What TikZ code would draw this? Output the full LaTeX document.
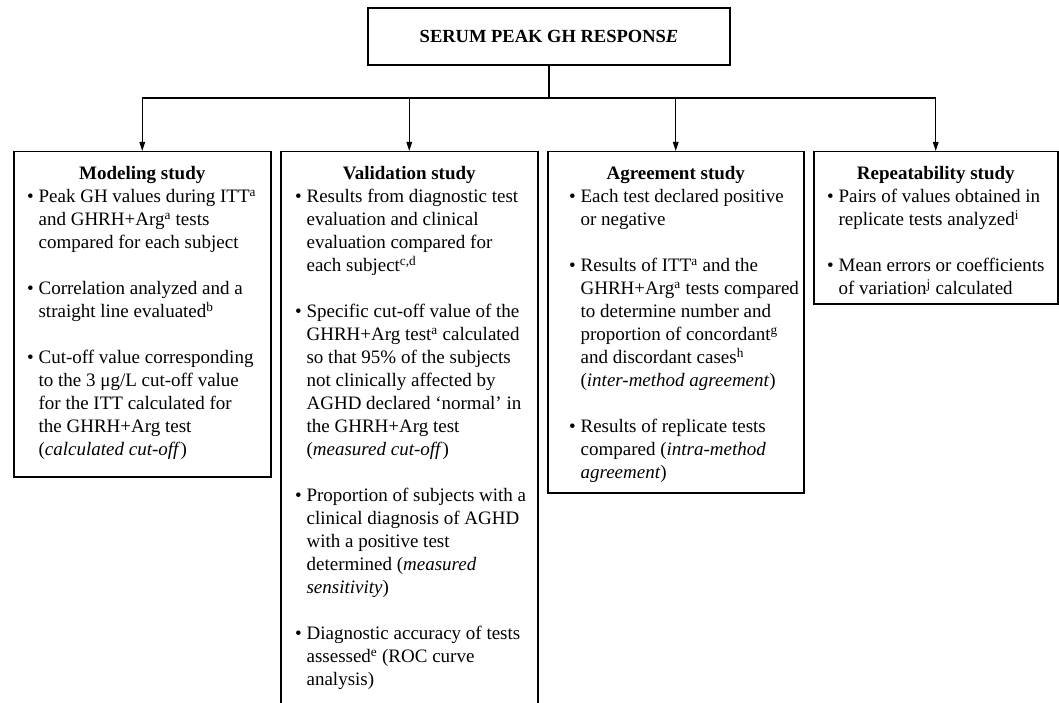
\documentclass[tikz,border=0pt]{standalone}
\usepackage{fontspec}
\setmainfont{Liberation Serif}
\usetikzlibrary{arrows.meta,positioning}
\tikzset{
  topbox/.style={draw, line width=2.2pt, align=center, inner sep=4pt, font=\fontsize{18.5}{22}\selectfont\bfseries},
  frame/.style={draw, line width=1.5pt, anchor=north west, minimum width=#1, inner sep=0pt},
  head/.style={inner sep=0pt, font=\fontsize{19}{23}\selectfont\bfseries},
  body/.style={inner sep=0pt, align=left, anchor=north west},
  link/.style={draw, line width=1.3pt},
  arrow/.style={-{Triangle[length=9pt,width=5.5pt]}, line width=1.3pt}
}
\newcommand{\bul}{\textbullet\ }
\newcommand{\ins}{\hphantom{\textbullet\ }}

\begin{document}
\begin{tikzpicture}[x=1pt, y=-1pt, font=\fontsize{19}{23}\selectfont]
  \useasboundingbox (0,0) rectangle (1059,703);
  \node[topbox, minimum width=362pt, minimum height=57pt] (resp) at (549,36.5) {SERUM PEAK GH RESPONS\textit{E}};

  \node[frame=257pt, minimum height=325pt] (mod) at (13,151) {};
  \node[frame=257pt, minimum height=561pt] (val) at (280,151) {};
  \node[frame=256pt, minimum height=341pt] (agr) at (547,151) {};
  \node[frame=244pt, minimum height=152pt] (rep) at (813,151) {};

  \node[head, below=15pt of mod.north] (modh) {Modeling study};
  \node[head, below=15pt of val.north] (valh) {Validation study};
  \node[head, below=15pt of agr.north] (agrh) {Agreement study};
  \node[head, below=15pt of rep.north] (reph) {Repeatability study};

  \node[body, below right=38pt and 14pt of mod.north west] (modb) {%
    \bul Peak GH values during ITT\textsuperscript{a}\\
    \ins and GHRH+Arg\textsuperscript{a} tests\\
    \ins compared for each subject\\[23pt]
    \bul Correlation analyzed and a\\
    \ins straight line evaluated\textsuperscript{b}\\[23pt]
    \bul Cut-off value corresponding\\
    \ins to the 3 μg/L cut-off value\\
    \ins for the ITT calculated for\\
    \ins the GHRH+Arg test\\
    \ins (\textit{calculated cut-off})};
  \node[body, below right=38pt and 15pt of val.north west] (valb) {%
    \bul Results from diagnostic test\\
    \ins evaluation and clinical\\
    \ins evaluation compared for\\
    \ins each subject\textsuperscript{c,d}\\[23pt]
    \bul Specific cut-off value of the\\
    \ins GHRH+Arg test\textsuperscript{a} calculated\\
    \ins so that 95\% of the subjects\\
    \ins not clinically affected by\\
    \ins AGHD declared `normal' in\\
    \ins the GHRH+Arg test\\
    \ins (\textit{measured cut-off})\\[23pt]
    \bul Proportion of subjects with a\\
    \ins clinical diagnosis of AGHD\\
    \ins with a positive test\\
    \ins determined (\textit{measured}\\
    \ins \textit{sensitivity})\\[23pt]
    \bul Diagnostic accuracy of tests\\
    \ins assessed\textsuperscript{e} (ROC curve\\
    \ins analysis)};
  \node[body, below right=38pt and 22pt of agr.north west] (agrb) {%
    \bul Each test declared positive\\
    \ins or negative\\[23pt]
    \bul Results of ITT\textsuperscript{a} and the\\
    \ins GHRH+Arg\textsuperscript{a} tests compared\\
    \ins to determine number and\\
    \ins proportion of concordant\textsuperscript{g}\\
    \ins and discordant cases\textsuperscript{h}\\
    \ins (\textit{inter-method agreement})\\[23pt]
    \bul Results of replicate tests\\
    \ins compared (\textit{intra-method}\\
    \ins \textit{agreement})};
  \node[body, below right=38pt and 14pt of rep.north west] (repb) {%
    \bul Pairs of values obtained in\\
    \ins replicate tests analyzed\textsuperscript{i}\\[23pt]
    \bul Mean errors or coefficients\\
    \ins of variation\textsuperscript{j} calculated};

  \coordinate (bus) at (resp.south |- 0,98);
  \draw[link] (resp.south) -- (bus);
  \draw[link] (mod.north |- bus) -- (rep.north |- bus);
  \foreach \s in {mod,val,agr,rep}
    \draw[arrow] (\s.north |- bus) -- (\s.north);
\end{tikzpicture}
\end{document}
